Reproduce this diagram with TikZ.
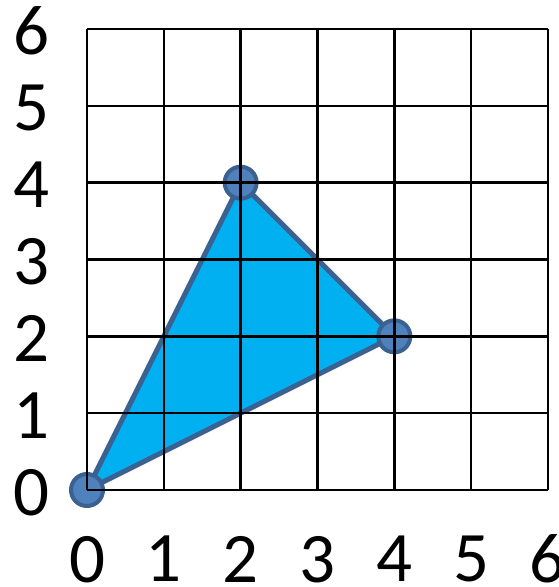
\documentclass[tikz,border=0pt]{standalone}
\usepackage{fontspec}
\setmainfont{Carlito}
\definecolor{trifill}{HTML}{00B0F0}
\definecolor{ptfill}{HTML}{4F81BD}
\definecolor{ptedge}{HTML}{3A6190}
\tikzset{
  gridline/.style={black, line width=2.4pt},
  lab/.style={font=\fontsize{71}{71}\selectfont, inner sep=0pt, text depth=0pt, anchor=center},
  pt/.style={circle, fill=ptfill, draw=ptedge, line width=4pt, minimum size=32pt, inner sep=0pt},
  tri/.style={fill=trifill, draw=ptedge, line width=5pt, line join=round}
}
\begin{document}
\begin{tikzpicture}[x=1pt,y=1pt]
\useasboundingbox (0,0) rectangle (559,587);
% grid origin at (87,97), cell 76.83
\def\cs{76.83}
\coordinate (A) at (87,97);
\coordinate (B) at ({87+2*\cs},{97+4*\cs});
\coordinate (C) at ({87+4*\cs},{97+2*\cs});
\draw[tri] (A) -- (B) -- (C) -- cycle;
\node[pt] (pA) at (A) {};
\node[pt] (pB) at (B) {};
\node[pt] (pC) at (C) {};
\foreach \i in {0,...,6} {
  \draw[gridline] ({87+\i*\cs},97) -- ({87+\i*\cs},{97+6*\cs});
  \draw[gridline] (87,{97+\i*\cs}) -- ({87+6*\cs},{97+\i*\cs});
  \node[lab] (y\i) at (31,{95+\i*\cs}) {\i};
  \node[lab] (x\i) at ({87+\i*\cs},28) {\i};
}
\end{tikzpicture}
\end{document}
